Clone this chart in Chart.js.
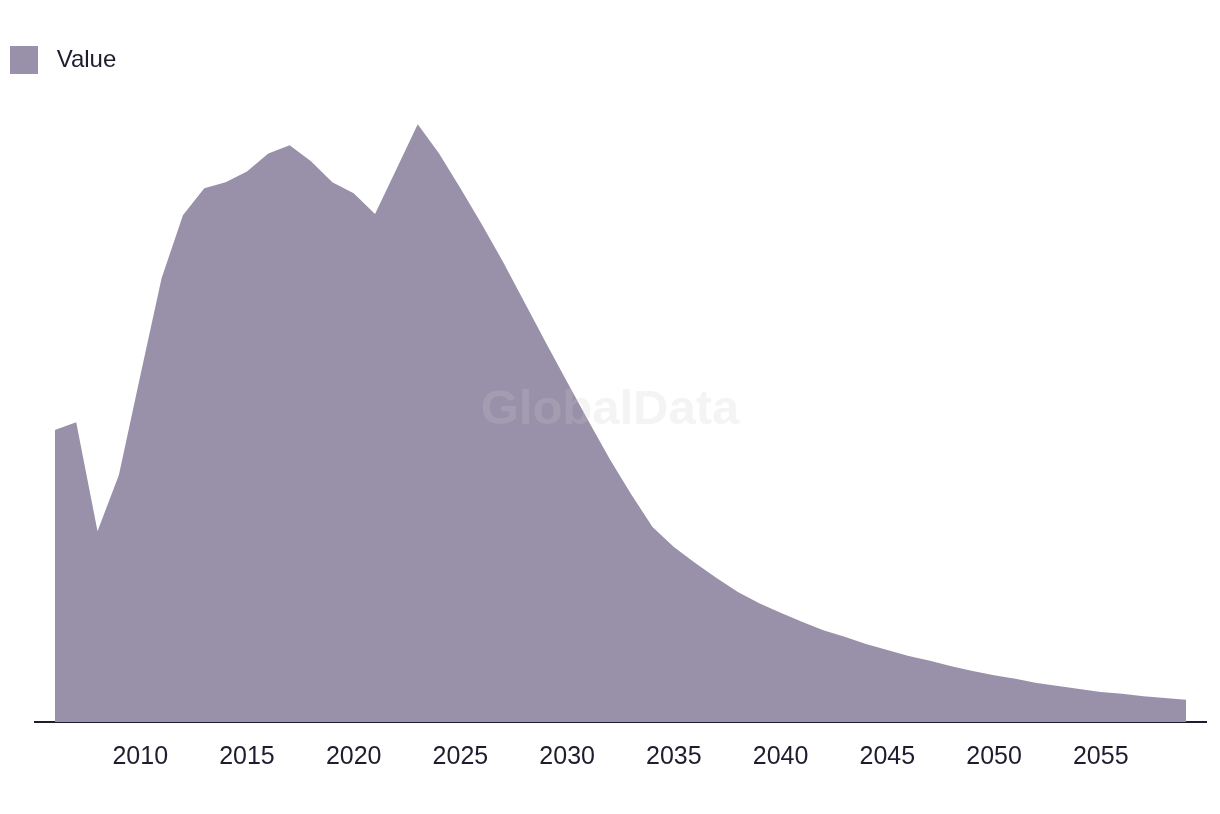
<!DOCTYPE html>
<html>
<head>
<meta charset="utf-8">
<title>Value</title>
<script src="https://cdn.jsdelivr.net/npm/chart.js@4/dist/chart.umd.min.js"></script>
<style>
  html, body { margin: 0; padding: 0; background: #fff; }
  #wrap { width: 1220px; height: 814px; position: relative; }
</style>
</head>
<body>
<div id="wrap"><canvas id="grafico"></canvas></div>
<script>
// Dados
const years = [
  2006, 2007, 2008, 2009, 2010, 2011, 2012, 2013, 2014, 2015,
  2016, 2017, 2018, 2019, 2020, 2021, 2022, 2023, 2024, 2025,
  2026, 2027, 2028, 2029, 2030, 2031, 2032, 2033, 2034, 2035,
  2036, 2037, 2038, 2039, 2040, 2041, 2042, 2043, 2044, 2045,
  2046, 2047, 2048, 2049, 2050, 2051, 2052, 2053, 2054, 2055,
  2056, 2057, 2058, 2059
];
const values = [
  48.7, 50.0, 31.8, 41.2, 57.7, 74.0, 84.5, 89.0, 90.0, 91.8,
  94.8, 96.2, 93.5, 90.0, 88.2, 84.7, 92.2, 99.7, 94.8, 89.0,
  83.0, 76.7, 70.0, 63.3, 56.7, 50.2, 43.8, 38.0, 32.5, 29.2,
  26.5, 24.0, 21.7, 19.8, 18.2, 16.7, 15.3, 14.2, 13.0, 12.0,
  11.0, 10.2, 9.3, 8.5, 7.8, 7.2, 6.5, 6.0, 5.5, 5.0,
  4.7, 4.3, 4.0, 3.7
];
const tickYears = [2010, 2015, 2020, 2025, 2030, 2035, 2040, 2045, 2050, 2055];
const seriesName = "Value";

const FONT = "'Liberation Sans', Arial, sans-serif";
const TEXT = "#1d1d2f";

// marca d'água no centro
const watermark = {
  id: "watermark",
  afterDatasetsDraw(chart) {
    const ctx = chart.ctx;
    ctx.save();
    ctx.font = "bold 49px " + FONT;
    ctx.fillStyle = "rgba(204, 204, 204, 0.22)";
    ctx.textAlign = "center";
    ctx.textBaseline = "middle";
    ctx.fillText("GlobalData", chart.width / 2, chart.height / 2 + 3);
    ctx.restore();
  }
};

const ctx = document.getElementById("grafico").getContext("2d");
new Chart(ctx, {
  type: "line",
  data: {
    datasets: [{
      label: seriesName,
      data: years.map((y, i) => ({ x: y, y: values[i] })),
      backgroundColor: "#9990a9",
      borderColor: "#9990a9",
      borderWidth: 0,
      pointRadius: 0,
      tension: 0,
      fill: "origin"
    }]
  },
  options: {
    responsive: true,
    maintainAspectRatio: false,
    animation: false,
    layout: { padding: { top: 36, left: 0, right: 14, bottom: 22 } },
    plugins: {
      legend: {
        position: "top",
        align: "start",
        labels: {
          boxWidth: 28,
          boxHeight: 28,
          padding: 10,
          color: TEXT,
          font: { family: FONT, size: 24 },
          // um espaço a mais entre a caixa e o texto
          generateLabels: (chart) =>
            Chart.defaults.plugins.legend.labels.generateLabels(chart)
              .map(item => ({ ...item, text: " " + item.text }))
        }
      },
      tooltip: { enabled: false }
    },
    scales: {
      x: {
        type: "linear",
        min: 2005.07,
        max: 2059.93,
        afterBuildTicks: (axis) => {
          axis.ticks = tickYears.map(v => ({ value: v }));
        },
        grid: { display: false, drawTicks: false },
        border: { display: true, color: TEXT, width: 2 },
        ticks: {
          color: TEXT,
          padding: 20,
          maxRotation: 0,
          font: { family: FONT, size: 25 },
          callback: (v) => String(v)
        }
      },
      y: {
        min: 0,
        max: 106.4,
        // eixo invisível só para reservar a margem esquerda
        afterFit: (axis) => { axis.width = 35; },
        grid: { display: false, drawTicks: false },
        border: { display: false },
        ticks: { display: false }
      }
    }
  },
  plugins: [watermark]
});
</script>
</body>
</html>
